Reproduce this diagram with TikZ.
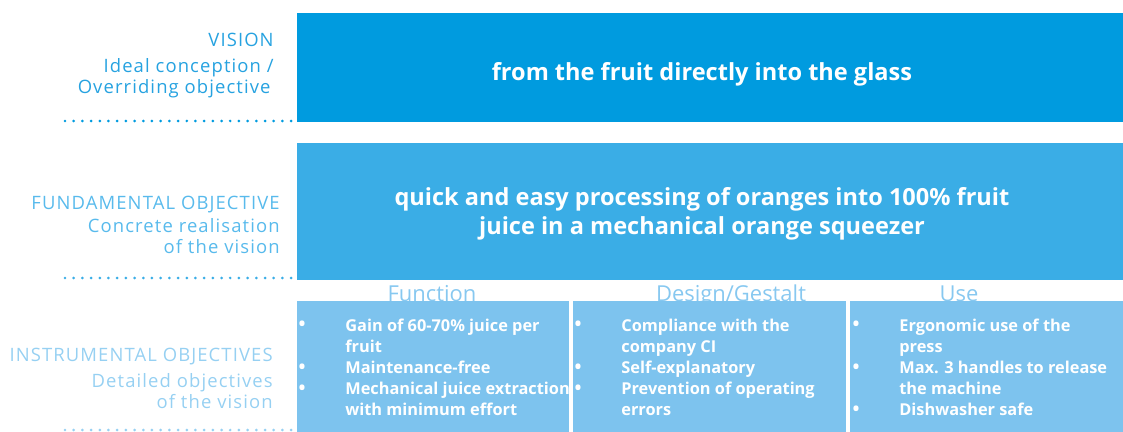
\documentclass[tikz,border=0pt]{standalone}
\usepackage{fontspec}
\setmainfont{Open Sans}
\usepackage{tikz}

\definecolor{visionblue}{RGB}{0,155,223}
\definecolor{fundblue}{RGB}{58,173,230}
\definecolor{instrblue}{RGB}{125,195,238}
\definecolor{visionlabel}{RGB}{38,162,224}
\definecolor{fundlabel}{RGB}{88,186,236}
\definecolor{instrlabel}{RGB}{150,208,242}
\definecolor{headlabel}{RGB}{135,200,240}

\begin{document}
\begin{tikzpicture}[x=0.02cm,y=-0.02cm,
    levelhead/.style={anchor=east,inner sep=0pt,font=\fontsize{10.5}{12}\selectfont\addfontfeatures{LetterSpace=6}},
    levelsub/.style={anchor=north east,inner sep=0pt,align=right,font=\fontsize{10.5}{12}\selectfont\addfontfeatures{LetterSpace=6}},
    bigtext/.style={text=white,font=\fontsize{13.4}{16.5}\selectfont\bfseries,align=center,inner sep=0pt},
    % multi-line items are placed by the baseline of their last line
    itemtext/.style={text=white,anchor=base west,align=left,inner sep=0pt,font=\fontsize{9.3}{12.15}\selectfont\bfseries},
    itemdot/.style={text=white,anchor=base,inner sep=0pt,font=\fontsize{10.5}{12.15}\selectfont\bfseries},
    colhead/.style={text=headlabel,anchor=base,inner sep=0pt,font=\fontsize{12.5}{14}\selectfont},
    dotline/.style={line width=1.7pt,line cap=round,dash pattern=on 0pt off 4.95pt}]
  \useasboundingbox (0,0) rectangle (1123,432);

  % left hand level labels
  \node[levelhead,text=visionlabel] (visionhead) at (274,40) {VISION};
  \node[levelsub,text=visionlabel] (visionsub) at (274,58) {Ideal conception /\\Overriding objective\,};
  \node[levelhead,text=fundlabel] (fundhead) at (280,205) {FUNDAMENTAL OBJECTIVE};
  \node[levelsub,text=fundlabel] (fundsub) at (280,218) {Concrete realisation\\of the vision};
  \node[levelhead,text=instrlabel] (instrhead) at (273,357) {INSTRUMENTAL OBJECTIVES};
  \node[levelsub,text=instrlabel] (instrsub) at (273,373) {Detailed objectives\\of the vision};

  % dotted separators
  \draw[dotline,visionblue] (65,121) -- (297,121);
  \draw[dotline,fundblue] (65,278) -- (297,278);
  \draw[dotline,instrlabel] (65,430) -- (297,430);

  % vision
  \fill[visionblue] (297,13) rectangle (1123,122);
  \node[bigtext] (vision) at (702,74) {from the fruit directly into the glass};

  % fundamental objective
  \fill[fundblue] (297,143) rectangle (1123,280);
  \node[bigtext] (fund) at (702,214) {quick and easy processing of oranges into 100\% fruit\\juice in a mechanical orange squeezer};

  % column heads sit just behind the boxes
  \node[colhead] (function) at (432,302) {Function};
  \node[colhead] (design) at (731,302) {Design/Gestalt};
  \node[colhead] (use) at (959,302) {Use};

  \fill[instrblue] (297,301) rectangle (569,432);
  \fill[instrblue] (573,301) rectangle (846,432);
  \fill[instrblue] (850,301) rectangle (1123,432);

  % function
  \node[itemdot] (f1dot) at (302,331) {•};
  \node[itemtext] (f1) at (345,353) {Gain of 60-70\% juice per\\fruit};
  \node[itemdot] (f2dot) at (302,374) {•};
  \node[itemtext] (f2) at (345,374) {Maintenance-free};
  \node[itemdot] (f3dot) at (302,395) {•};
  \node[itemtext] (f3) at (345,416) {Mechanical juice extraction\\with minimum effort};

  % design
  \node[itemdot] (d1dot) at (578,331) {•};
  \node[itemtext] (d1) at (621,353) {Compliance with the\\company CI};
  \node[itemdot] (d2dot) at (578,374) {•};
  \node[itemtext] (d2) at (621,374) {Self-explanatory};
  \node[itemdot] (d3dot) at (578,395) {•};
  \node[itemtext] (d3) at (621,416) {Prevention of operating\\errors};

  % use
  \node[itemdot] (u1dot) at (856,331) {•};
  \node[itemtext] (u1) at (899,353) {Ergonomic use of the\\press};
  \node[itemdot] (u2dot) at (856,374) {•};
  \node[itemtext] (u2) at (899,395) {Max. 3 handles to release\\the machine};
  \node[itemdot] (u3dot) at (856,416) {•};
  \node[itemtext] (u3) at (899,416) {Dishwasher safe};
\end{tikzpicture}
\end{document}
